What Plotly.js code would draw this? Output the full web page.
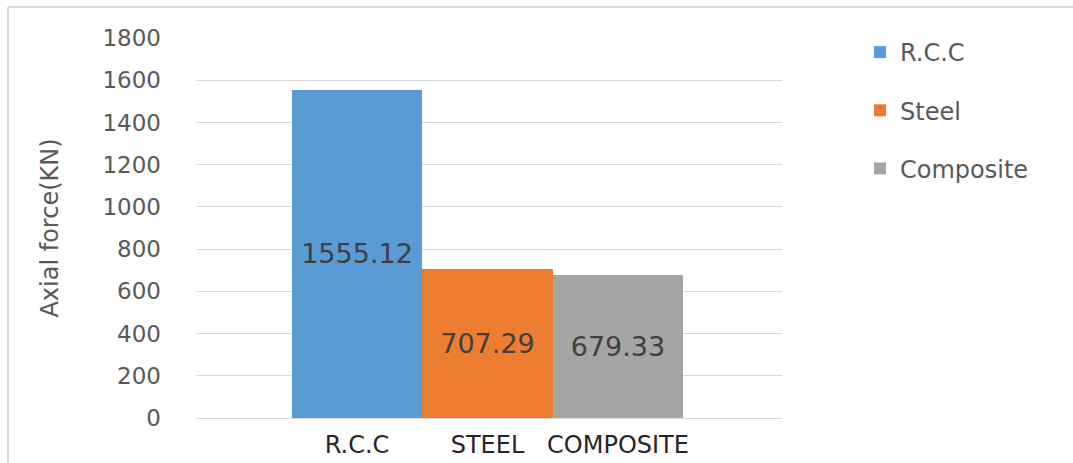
<!DOCTYPE html>
<html>
<head>
<meta charset="utf-8">
<script src="https://cdn.plot.ly/plotly-3.0.1.min.js"></script>
<style>
  html, body { margin: 0; padding: 0; background: #ffffff; }
  #chart { width: 1073px; height: 463px; }
</style>
</head>
<body>
<div id="chart"></div>
<script>
// Axial force per structural system (kN)
const categories = ["R.C.C", "STEEL", "COMPOSITE"];
const seriesNames = ["R.C.C", "Steel", "Composite"];
const axialForce = [1555.12, 707.29, 679.33];
const yTicks = [0, 200, 400, 600, 800, 1000, 1200, 1400, 1600, 1800];

const colors = ["#5b9bd5", "#ed7d31", "#a5a5a5"];
const fontFamily = "DejaVu Sans, Verdana, sans-serif";

const traces = categories.map((cat, i) => ({
  type: "bar",
  name: seriesNames[i],
  legendgroup: "g" + i,
  x: [cat],
  y: [axialForce[i]],
  text: [axialForce[i].toFixed(2)],
  textposition: "inside",
  insidetextanchor: "middle",
  textangle: 0,
  textfont: { family: fontFamily, size: 27, color: "#404040" },
  marker: { color: colors[i], line: { width: 0 } },
  hoverinfo: "name+y"
}));

// plot area: 196..782 px horizontally, 38..418 px vertically
const L = 196, R = 782, T = 38, B = 418, W = 1073, H = 463;
const px = v => (v - L) / (R - L);
const py = v => (B - v) / (B - T);

const layout = {
  width: W,
  height: H,
  margin: { l: L, r: W - R, t: T, b: H - B, pad: 0 },
  paper_bgcolor: "#ffffff",
  plot_bgcolor: "#ffffff",
  barmode: "overlay",
  bargap: 0,
  showlegend: true,
  font: { family: fontFamily, color: "#595959" },
  xaxis: {
    type: "category",
    range: [-1.234, 3.257],
    showgrid: false,
    zeroline: false,
    showline: false,
    ticks: "",
    ticklabelstandoff: 10,
    tickfont: { family: fontFamily, size: 24, color: "#262626" },
    automargin: false,
    fixedrange: true
  },
  yaxis: {
    range: [0, 1800],
    tickvals: yTicks,
    ticktext: yTicks.map(String),
    showgrid: true,
    gridcolor: "#d9d9d9",
    gridwidth: 1,
    zeroline: true,
    zerolinecolor: "#d9d9d9",
    zerolinewidth: 1,
    showline: false,
    ticks: "",
    ticklabelstandoff: 34,
    tickfont: { family: fontFamily, size: 23, color: "#595959" },
    automargin: true,
    title: {
      text: "Axial force(KN)",
      standoff: 37,
      font: { family: fontFamily, size: 24, color: "#595959" }
    },
    fixedrange: true
  },
  legend: {
    x: px(860),
    xanchor: "left",
    y: py(30),
    yanchor: "top",
    traceorder: "grouped",
    tracegroupgap: 24,
    font: { family: fontFamily, size: 24, color: "#595959" },
    bgcolor: "rgba(0,0,0,0)",
    borderwidth: 0
  },
  shapes: [
    { type: "line", xref: "paper", yref: "paper",
      x0: px(8), x1: px(W), y0: py(7), y1: py(7),
      line: { color: "#d9d9d9", width: 2 } },
    { type: "line", xref: "paper", yref: "paper",
      x0: px(8), x1: px(8), y0: py(7), y1: py(H),
      line: { color: "#d9d9d9", width: 2 } }
  ]
};

Plotly.newPlot("chart", traces, layout, { displayModeBar: false, staticPlot: true });
</script>
</body>
</html>
